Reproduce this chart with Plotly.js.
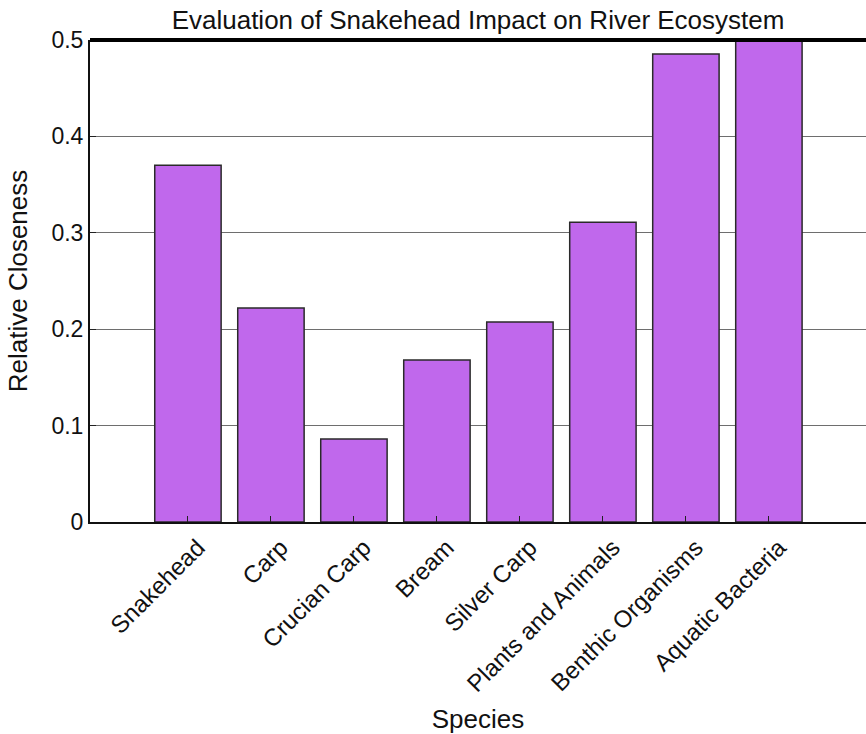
<!DOCTYPE html>
<html>
<head>
<meta charset="utf-8">
<script src="https://cdn.plot.ly/plotly-3.0.1.min.js"></script>
<style>html,body{margin:0;padding:0;background:#fff;}#chart{width:866px;height:734px;}</style>
</head>
<body>
<div id="chart"></div>
<script>
const species = ["Snakehead", "Carp", "Crucian Carp", "Bream", "Silver Carp", "Plants and Animals", "Benthic Organisms", "Aquatic Bacteria"];
const closeness = [0.370, 0.222, 0.086, 0.168, 0.2075, 0.311, 0.4855, 0.499];
const yTicks = [0, 0.1, 0.2, 0.3, 0.4, 0.5];
const yTickText = ["0", "0.1", "0.2", "0.3", "0.4", "0.5"];

const font = "Liberation Sans, Arial, sans-serif";
const data = [{
  type: "bar",
  x: species,
  y: closeness,
  marker: {color: "rgb(192,104,236)", line: {color: "#2a2a2a", width: 1.5}},
  hoverinfo: "x+y"
}];
const layout = {
  width: 866, height: 734,
  margin: {l: 90, r: 0, t: 40, b: 212},
  paper_bgcolor: "#fff", plot_bgcolor: "#fff",
  bargap: 0.2,
  title: {text: "Evaluation of Snakehead Impact on River Ecosystem", font: {family: font, size: 26, color: "#111"}, x: 0.552, xanchor: "center", y: 0.973, yanchor: "middle"},
  xaxis: {
    range: [-1.18, 8.17],
    tickangle: -45,
    tickfont: {family: font, size: 24, color: "#111"},
    ticklabelshift: 10,
    ticks: "inside", ticklen: 6, tickcolor: "#222",
    showline: true, linecolor: "#111", linewidth: 2,
    showgrid: false,
    title: {text: "Species", font: {family: font, size: 26, color: "#111"}, standoff: 14},
    automargin: false
  },
  yaxis: {
    range: [0, 0.5],
    tickvals: yTicks, ticktext: yTickText,
    tickfont: {family: font, size: 23, color: "#111"},
    ticks: "inside", ticklen: 6, tickcolor: "#222",
    showline: true, linecolor: "#111", linewidth: 2,
    showgrid: true, gridcolor: "#6e6e6e", gridwidth: 1,
    zeroline: false,
    layer: "above traces",
    title: {text: "Relative Closeness", font: {family: font, size: 26, color: "#111"}, standoff: 16},
    automargin: false
  },
  shapes: [
    {type: "line", xref: "paper", yref: "paper", x0: 0, x1: 1, y0: 1, y1: 1, line: {color: "#000", width: 4}}
  ],
  showlegend: false
};
Plotly.newPlot("chart", data, layout, {displayModeBar: false, staticPlot: true});
</script>
</body>
</html>
